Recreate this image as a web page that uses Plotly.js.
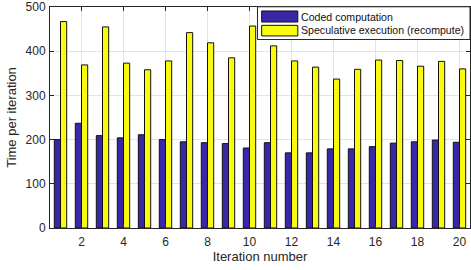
<!DOCTYPE html>
<html><head><meta charset="utf-8">
<script src="https://cdn.plot.ly/plotly-3.0.1.min.js"></script>
<style>html,body{margin:0;padding:0;background:#fff;}#chart{width:471px;height:270px;}</style>
</head><body><div id="chart"></div>
<script>
const iterations = [1,2,3,4,5,6,7,8,9,10,11,12,13,14,15,16,17,18,19,20];
const codedComputation = [200,237,209,204,211,200,195,193,191,181,193,170,170,179,179,184,192,195,199,194];
const speculativeExecution = [467,369,455,373,358,378,442,419,385,457,412,378,364,337,359,380,379,366,377,360];
const seriesNames = ['Coded computation','Speculative execution (recompute)'];
const xTicks = [2,4,6,8,10,12,14,16,18,20];
const yTicks = [0,100,200,300,400,500];

const blue = '#3a27a8';
const yellow = '#f9fb0e';
const font = 'Liberation Sans, Arial, Helvetica, sans-serif';

const traces = [
  {type:'bar', x:iterations, y:codedComputation, name:seriesNames[0],
   marker:{color:blue, line:{color:'#111', width:1}}, showlegend:false},
  {type:'bar', x:iterations, y:speculativeExecution, name:seriesNames[1],
   marker:{color:yellow, line:{color:'#111', width:1}}, showlegend:false}
];

// legend drawn with shapes + annotations (wide MATLAB-style swatches)
const lg = {x0:0.494, x1:1, y0:0.853, y1:1.001};
const sw = {x0:0.504, x1:0.590};
const rows = [{y0:0.932,y1:0.982,ty:0.957,color:blue},{y0:0.869,y1:0.917,ty:0.894,color:yellow}];
const shapes = [{type:'rect', xref:'paper', yref:'paper', x0:lg.x0, x1:lg.x1, y0:lg.y0, y1:lg.y1,
  fillcolor:'#fff', line:{color:'#262626', width:1}, layer:'above'}];
const annotations = [];
rows.forEach((r,i)=>{
  shapes.push({type:'rect', xref:'paper', yref:'paper', x0:sw.x0, x1:sw.x1, y0:r.y0, y1:r.y1,
    fillcolor:r.color, line:{color:'#111', width:1}, layer:'above'});
  annotations.push({xref:'paper', yref:'paper', x:0.596, y:r.ty, xanchor:'left', yanchor:'middle',
    text:seriesNames[i], showarrow:false, borderpad:0, font:{family:font, size:10.6, color:'#111'}});
});

const axisCommon = {
  showline:true, linecolor:'#262626', linewidth:1, mirror:'ticks',
  ticks:'inside', ticklen:4, tickcolor:'#262626', tickwidth:1,
  showgrid:true, gridcolor:'#e3e3e3', gridwidth:1, zeroline:false, automargin:false,
  tickfont:{family:font, size:12, color:'#262626'}
};

const layout = {
  width:471, height:270,
  margin:{l:50, r:1, t:7, b:42},
  paper_bgcolor:'#fff', plot_bgcolor:'#fff',
  barmode:'group', bargap:0.41, bargroupgap:0,
  xaxis:Object.assign({}, axisCommon, {range:[0.5,20.5], tickvals:xTicks, ticklabelstandoff:3,
    title:{text:'Iteration number', font:{family:font, size:13, color:'#262626'}, standoff:3}}),
  yaxis:Object.assign({}, axisCommon, {range:[0,500], tickvals:yTicks, ticklabelstandoff:1,
    title:{text:'Time per iteration', font:{family:font, size:13, color:'#262626'}, standoff:6}}),
  shapes:shapes, annotations:annotations, showlegend:false
};

Plotly.newPlot('chart', traces, layout, {displayModeBar:false, staticPlot:true});
</script></body></html>
